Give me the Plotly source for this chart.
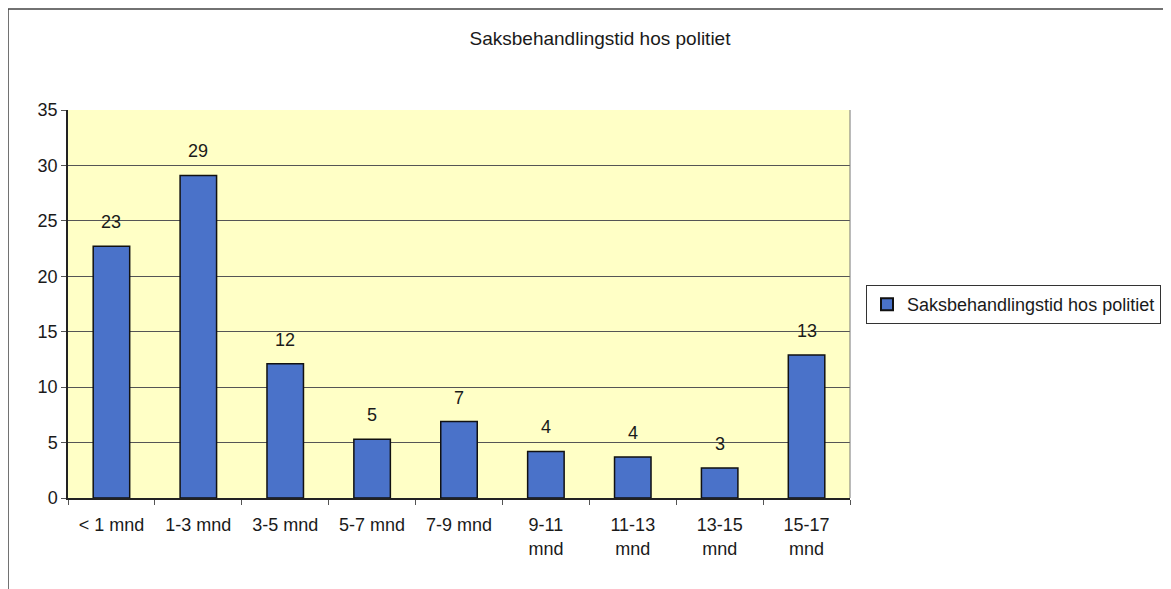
import plotly.graph_objects as go

categories = ["< 1 mnd", "1-3 mnd", "3-5 mnd", "5-7 mnd", "7-9 mnd",
              "9-11<br>mnd", "11-13<br>mnd", "13-15<br>mnd", "15-17<br>mnd"]
values = [22.7, 29.1, 12.1, 5.3, 6.9, 4.2, 3.7, 2.7, 12.9]
labels = ["23", "29", "12", "5", "7", "4", "4", "3", "13"]
y_ticks = [0, 5, 10, 15, 20, 25, 30, 35]
series_name = "Saksbehandlingstid hos politiet"
title_text = "Saksbehandlingstid hos politiet"

# page body has an 8px margin, so figure coords = page coords - 8
OFF = 8
W, H = 1171 - OFF, 589 - OFF
L, R, T, B = 68 - OFF, 850 - OFF, 110 - OFF, 498 - OFF
pw, ph = R - L, B - T


def px(x):
    return (x - OFF - L) / pw


def py(y):
    return (B - (y - OFF)) / ph


font = "Liberation Sans, Arial, sans-serif"
txt = "#1a1a1a"

fig = go.Figure()
fig.add_trace(go.Bar(
    x=categories, y=values, name=series_name,
    marker=dict(color="#4A72C9", line=dict(color="#111111", width=1.5)),
    showlegend=True,
))

annotations = [
    dict(x=c, y=v, xref="x", yref="y", text=t, showarrow=False,
         yshift=24, yanchor="middle", font=dict(size=18, color=txt, family=font))
    for c, v, t in zip(categories, values, labels)
]

fig.update_layout(
    width=W, height=H,
    margin=dict(l=L, r=W - R, t=T, b=H - B, autoexpand=False),
    paper_bgcolor="white", plot_bgcolor="#FFFFC6",
    bargap=0.58,
    font=dict(family=font, size=18, color=txt),
    title=dict(text=title_text, x=px(600), xanchor="center", xref="paper",
               y=1 - (38 - OFF) / H, yanchor="middle", font=dict(size=19, color=txt)),
    legend=dict(x=px(866), y=py(285), xanchor="left", yanchor="top",
                bgcolor="white", bordercolor="#333333", borderwidth=1,
                font=dict(size=18, color=txt), itemsizing="constant"),
    xaxis=dict(showgrid=False, showline=True, linecolor="#222222", linewidth=1.5,
               ticks="outside", tickson="boundaries", ticklen=5, tickcolor="#555555",
               tickfont=dict(size=18), ticklabelstandoff=10),
    yaxis=dict(range=[0, 35], tickvals=y_ticks, showgrid=True, gridcolor="#555555",
               gridwidth=1.2, showline=True, linecolor="#222222", linewidth=1.5,
               ticks="outside", ticklen=5, tickcolor="#555555", tickfont=dict(size=18),
               zeroline=False),
    annotations=annotations,
    shapes=[
        dict(type="rect", xref="paper", yref="paper",
             x0=px(8), y0=py(620), x1=px(1200), y1=py(9),
             line=dict(color="#444444", width=1.5), layer="below"),
        dict(type="line", xref="paper", yref="paper",
             x0=1, x1=1, y0=0, y1=1, line=dict(color="#777777", width=1)),
    ],
)

fig.write_html("out.html")
